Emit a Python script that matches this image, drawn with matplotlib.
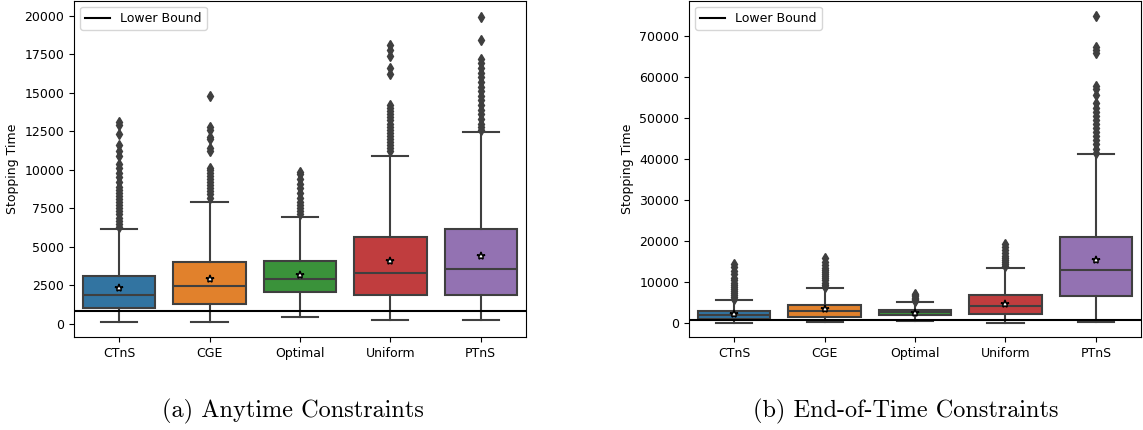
import matplotlib
matplotlib.use("Agg")
import matplotlib.pyplot as plt

labels = ["CTnS", "CGE", "Optimal", "Uniform", "PTnS"]
colors = ["#3274a1", "#e1812c", "#3a923a", "#c03d3e", "#9372b2"]

# anytime constraints: q1, median, q3, whisker low, whisker high, mean
any_q1 = [1020, 1290, 2090, 1880, 1900]
any_med = [1880, 2440, 2940, 3290, 3570]
any_q3 = [3100, 3990, 4050, 5620, 6150]
any_lo = [130, 100, 430, 260, 260]
any_hi = [6190, 7890, 6940, 10900, 12480]
any_mean = [2360, 2920, 3200, 4050, 4420]
any_fliers = [
    [6300, 6500, 6700, 6900, 7100, 7300, 7500, 7700, 7900, 8100, 8300, 8500,
     8700, 8900, 9200, 9500, 9800, 10100, 10400, 10900, 11200, 11600, 12300,
     12900, 13100],
    [8200, 8400, 8600, 8800, 9000, 9200, 9400, 9600, 9800, 10000, 10100,
     11200, 11400, 12000, 12100, 12600, 12800, 14800],
    [7100, 7300, 7500, 7700, 7900, 8200, 8500, 8800, 9100, 9400, 9700, 9850],
    [11200, 11400, 11600, 11800, 12000, 12200, 12400, 12600, 12800, 13000,
     13200, 13400, 13600, 13800, 14000, 14200, 16200, 16600, 17400, 17800,
     18100],
    [12550, 12800, 13000, 13300, 13600, 13900, 14200, 14500, 14800, 15100,
     15400, 15700, 16000, 16300, 16600, 16900, 17200, 18400, 19900],
]
any_bound = 850

# end-of-time constraints
eot_q1 = [830, 1470, 1800, 2050, 6590]
eot_med = [1900, 2860, 2690, 4150, 12870]
eot_q3 = [2860, 4320, 3170, 6690, 21000]
eot_lo = [0, 100, 400, 0, 100]
eot_hi = [5540, 8550, 4970, 13430, 41120]
eot_mean = [2000, 3260, 2440, 4640, 15400]
eot_fliers = [
    [5800, 6300, 6800, 7300, 7800, 8300, 8800, 9300, 9800, 10300, 11000,
     11800, 12500, 13500, 14200],
    [8800, 9300, 9800, 10300, 10800, 11300, 11800, 12300, 12800, 13400,
     14000, 14800, 15700],
    [5200, 5500, 5800, 6100, 6400, 6700, 7000],
    [13800, 14300, 14800, 15300, 15800, 16300, 17000, 17800, 18500, 19200],
    [41500, 42500, 43500, 44500, 45500, 46500, 47500, 48500, 49500, 50500,
     51500, 52500, 53500, 55500, 57000, 57700, 65800, 66500, 67200, 74800],
]
eot_bound = 650

line_c = "#3f3f3f"


def draw(ax, q1, med, q3, lo, hi, mean, fliers, bound, ylim, ticks):
    stats = []
    for i in range(len(labels)):
        stats.append({"q1": q1[i], "med": med[i], "q3": q3[i],
                      "whislo": lo[i], "whishi": hi[i], "mean": mean[i],
                      "fliers": fliers[i], "label": labels[i]})
    bp = ax.bxp(stats, positions=range(len(labels)), widths=0.8,
                capwidths=0.4, patch_artist=True, showmeans=True,
                boxprops=dict(edgecolor=line_c, linewidth=1.5),
                whiskerprops=dict(color=line_c, linewidth=1.5),
                capprops=dict(color=line_c, linewidth=1.5),
                medianprops=dict(color=line_c, linewidth=1.5),
                flierprops=dict(marker="d", markersize=5, markerfacecolor=line_c,
                                markeredgecolor=line_c, linestyle="none"),
                meanprops=dict(marker="*", markersize=6, markerfacecolor="white",
                               markeredgecolor="black", markeredgewidth=1.1))
    for patch, c in zip(bp["boxes"], colors):
        patch.set_facecolor(c)
    ax.axhline(bound, color="black", linewidth=1.5, label="Lower Bound")
    ax.set_xlim(-0.5, len(labels) - 0.5)
    ax.set_ylim(*ylim)
    ax.set_yticks(ticks)
    ax.set_xticks(range(len(labels)))
    ax.set_xticklabels(labels)
    ax.tick_params(labelsize=9)
    ax.set_ylabel("Stopping Time", fontsize=9)
    ax.legend(loc="upper left", fontsize=9)


fig = plt.figure(figsize=(11.43, 4.30), dpi=100)
ax1 = fig.add_axes([0.0647, 0.2163, 0.3955, 0.7820])
ax2 = fig.add_axes([0.6028, 0.2163, 0.3955, 0.7820])

draw(ax1, any_q1, any_med, any_q3, any_lo, any_hi, any_mean, any_fliers,
     any_bound, (-850, 20970), range(0, 20001, 2500))
draw(ax2, eot_q1, eot_med, eot_q3, eot_lo, eot_hi, eot_mean, eot_fliers,
     eot_bound, (-3490, 78560), range(0, 70001, 10000))

fig.text(0.256, 0.03, "(a) Anytime Constraints", family="cmr10",
         fontsize=17.5, ha="center", va="baseline")
fig.text(0.792, 0.03, "(b) End-of-Time Constraints", family="cmr10",
         fontsize=17.5, ha="center", va="baseline")

fig.savefig("out.png", dpi=100)
